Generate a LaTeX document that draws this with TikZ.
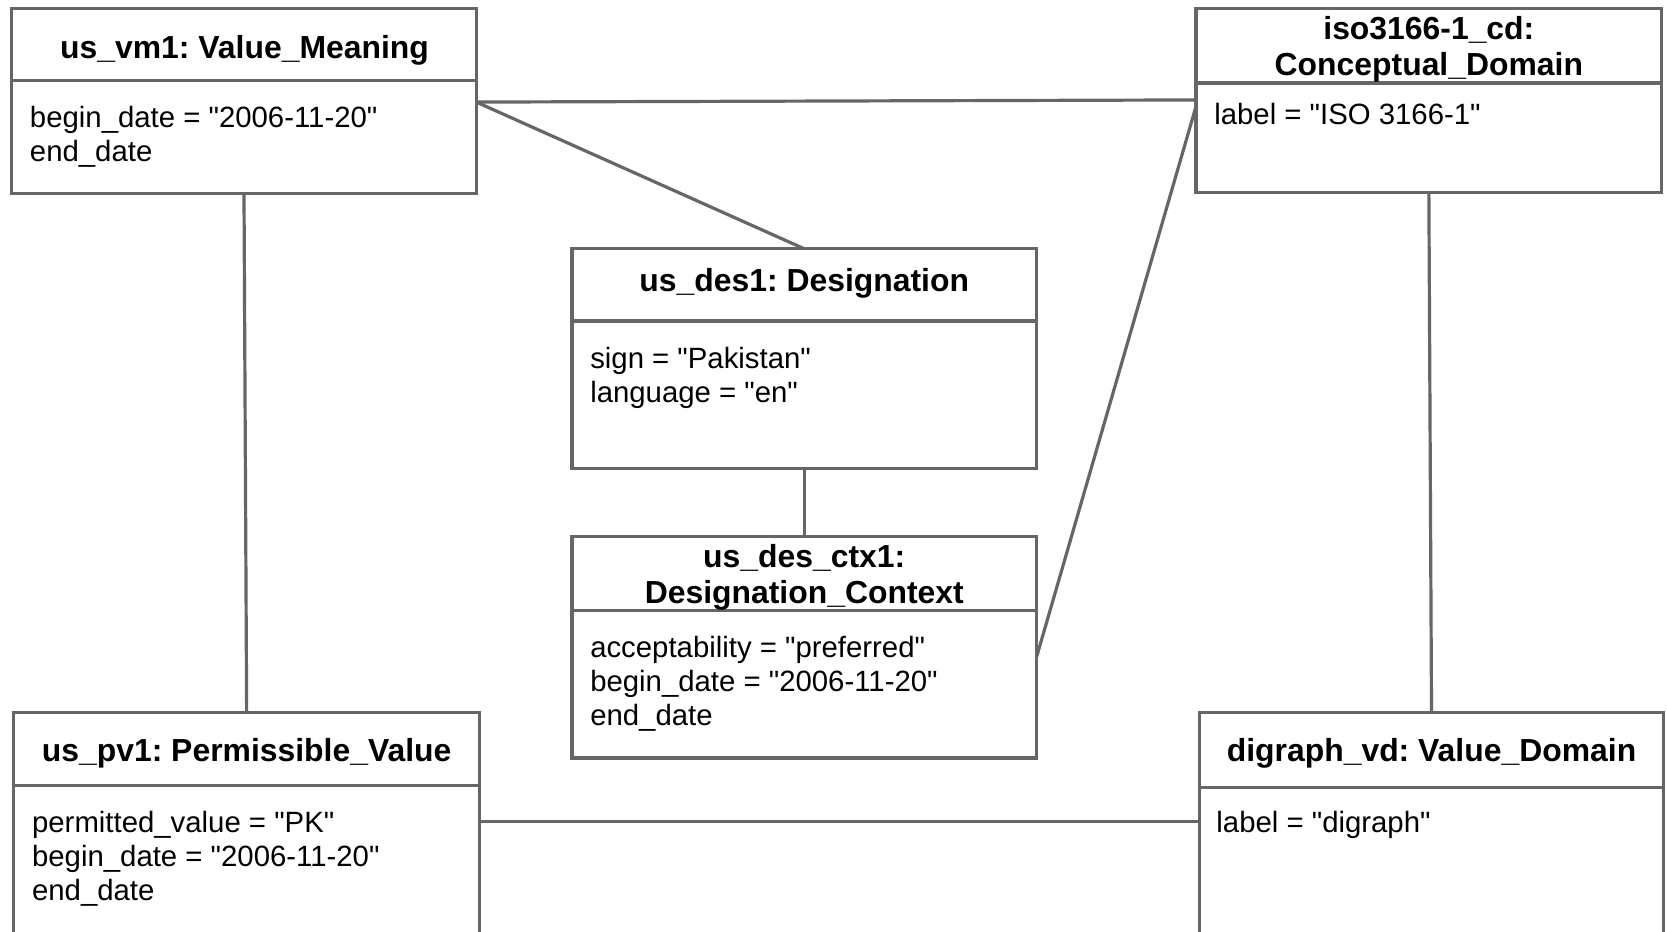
\documentclass[tikz,border=0pt]{standalone}
\usepackage{fontspec}
\setmainfont{Liberation Sans}[Ligatures=TeXOff]
\frenchspacing
\definecolor{edgegray}{RGB}{102,102,102}
\begin{document}
\begin{tikzpicture}[x=1pt,y=-1pt,
  objbox/.style={draw=edgegray,line width=3pt,fill=white,inner sep=0pt,outer sep=0pt,anchor=north west,minimum width=437pt},
  titletext/.style={anchor=base,inner sep=0pt,font=\fontsize{30}{34}\selectfont\bfseries\frenchspacing},
  attrtext/.style={anchor=base west,inner sep=0pt,font=\fontsize{27.6}{32}\selectfont\frenchspacing},
  divider/.style={draw=edgegray,line width=3pt},
  link/.style={draw=edgegray,line width=3pt}]
\fill[white] (0,0) rectangle (1568,876);
\useasboundingbox (0,0) rectangle (1568,876);
\clip (0,0) rectangle (1568,876);

% boxes
\node[objbox,minimum height=174pt] (vm1) at (11,8) {};
\node[objbox,minimum height=173pt,minimum width=438pt] (iso) at (1125,8) {};
\node[objbox,minimum height=207pt] (des) at (538,234) {};
\node[objbox,minimum height=208pt] (ctx) at (538,505) {};
\node[objbox,minimum height=260pt,minimum width=438pt] (pv) at (13,670) {};
\node[objbox,minimum height=260pt] (vd) at (1128,670) {};

% connectors
\draw[link] ([yshift=-88pt]vm1.north east) -- ([yshift=-86pt]iso.north west);
\draw[link] ([yshift=-88pt]vm1.north east) -- (des.north);
\draw[link] ([yshift=-92pt]iso.north west) -- ([yshift=-113pt]ctx.north east);
\draw[link] (vm1.south) -- (pv.north);
\draw[link] (iso.south) -- (vd.north);
\draw[link] (des.south) -- (ctx.north);
\draw[link] ([yshift=-103pt]pv.north east) -- ([yshift=-103pt]vd.north west);

% dividers
\draw[divider] ([yshift=-68pt]vm1.north west) -- ([yshift=-68pt]vm1.north east);
\draw[divider] ([yshift=-70pt]iso.north west) -- ([yshift=-70pt]iso.north east);
\draw[divider] ([yshift=-68pt]des.north west) -- ([yshift=-68pt]des.north east);
\draw[divider] ([yshift=-69pt]ctx.north west) -- ([yshift=-69pt]ctx.north east);
\draw[divider] ([yshift=-69pt]pv.north west) -- ([yshift=-69pt]pv.north east);
\draw[divider] ([yshift=-71pt]vd.north west) -- ([yshift=-71pt]vd.north east);

% titles
\node[titletext] (vm1t) at (230,55) {us\_vm1: Value\_Meaning};
\node[titletext] (isot1) at (1344,37) {iso3166-1\_cd:};
\node[titletext] (isot2) at (1344,71) {Conceptual\_Domain};
\node[titletext] (dest) at (756.5,274) {us\_des1: Designation};
\node[titletext] (ctxt1) at (756.5,534) {us\_des\_ctx1:};
\node[titletext] (ctxt2) at (756.5,568) {Designation\_Context};
\node[titletext] (pvt) at (232,716) {us\_pv1: Permissible\_Value};
\node[titletext] (vdt) at (1346.5,716) {digraph\_vd: Value\_Domain};

% attributes
\node[attrtext] (vm1a1) at (28,120) {begin\_date = "2006-11-20"};
\node[attrtext] (vm1a2) at (28,152) {end\_date};
\node[attrtext] (isoa1) at (1142,117) {label = "ISO 3166-1"};
\node[attrtext] (desa1) at (555,347) {sign = "Pakistan"};
\node[attrtext] (desa2) at (555,379) {language = "en"};
\node[attrtext] (ctxa1) at (555,618) {acceptability = "preferred"};
\node[attrtext] (ctxa2) at (555,650) {begin\_date = "2006-11-20"};
\node[attrtext] (ctxa3) at (555,682) {end\_date};
\node[attrtext] (pva1) at (30,783) {permitted\_value = "PK"};
\node[attrtext] (pva2) at (30,815) {begin\_date = "2006-11-20"};
\node[attrtext] (pva3) at (30,847) {end\_date};
\node[attrtext] (vda1) at (1144,783) {label = "digraph"};
\end{tikzpicture}
\end{document}
